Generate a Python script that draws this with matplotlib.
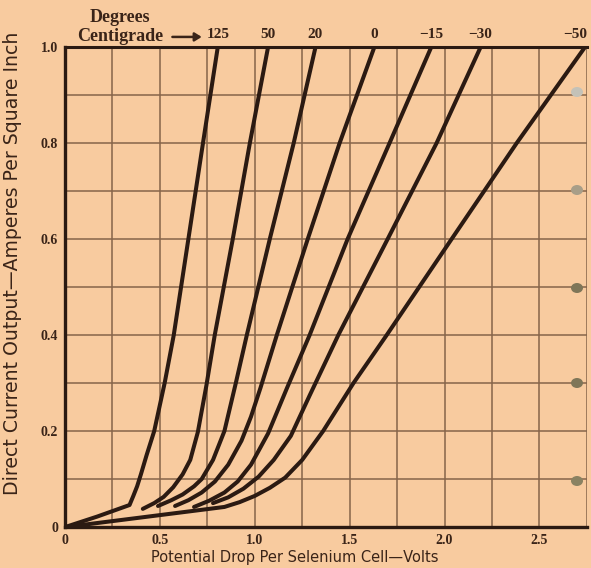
import matplotlib
matplotlib.use("Agg")
import matplotlib.pyplot as plt
import numpy as np

# ---- data (volts, amperes per square inch) ----
temps = ["125", "50", "20", "0", "\u221215", "\u221230", "\u221250"]

v_125 = [0.0, 0.17, 0.34, 0.36, 0.38, 0.40, 0.43, 0.47, 0.525, 0.573, 0.65, 0.727, 0.805]
a_125 = [0.0, 0.022, 0.046, 0.065, 0.085, 0.11, 0.15, 0.20, 0.30, 0.40, 0.60, 0.80, 1.00]

v_50 = [0.41, 0.47, 0.52, 0.57, 0.62, 0.66, 0.70, 0.745, 0.789, 0.884, 0.974, 1.07]
a_50 = [0.038, 0.050, 0.063, 0.083, 0.11, 0.14, 0.198, 0.295, 0.40, 0.60, 0.80, 1.00]

v_20 = [0.49, 0.56, 0.62, 0.68, 0.72, 0.78, 0.84, 0.90, 0.958, 1.079, 1.205, 1.32]
a_20 = [0.044, 0.056, 0.068, 0.085, 0.10, 0.14, 0.20, 0.30, 0.40, 0.60, 0.80, 1.00]

v_0 = [0.58, 0.65, 0.72, 0.79, 0.86, 0.93, 0.98, 1.03, 1.116, 1.279, 1.447, 1.63]
a_0 = [0.044, 0.056, 0.072, 0.095, 0.13, 0.18, 0.23, 0.29, 0.40, 0.60, 0.80, 1.00]

v_m15 = [0.68, 0.76, 0.84, 0.91, 0.98, 1.07, 1.17, 1.289, 1.489, 1.71, 1.93]
a_m15 = [0.042, 0.055, 0.072, 0.095, 0.13, 0.195, 0.29, 0.40, 0.60, 0.80, 1.00]

v_m30 = [0.78, 0.86, 0.94, 1.02, 1.10, 1.19, 1.29, 1.44, 1.70, 1.958, 2.19]
a_m30 = [0.050, 0.062, 0.080, 0.105, 0.14, 0.19, 0.275, 0.40, 0.60, 0.80, 1.00]

v_m50 = [0.0, 0.42, 0.84, 0.92, 1.00, 1.08, 1.16, 1.25, 1.36, 1.52, 1.695, 2.037, 2.38, 2.74]
a_m50 = [0.0, 0.021, 0.042, 0.052, 0.065, 0.082, 0.103, 0.14, 0.20, 0.30, 0.40, 0.60, 0.80, 1.00]

label_x = [0.805, 1.07, 1.32, 1.63, 1.93, 2.19, 2.69]

xticks = [0, 0.5, 1.0, 1.5, 2.0, 2.5]
xtick_labels = ["0", "0.5", "1.0", "1.5", "2.0", "2.5"]
yticks = [0, 0.2, 0.4, 0.6, 0.8, 1.0]
ytick_labels = ["0", "0.2", "0.4", "0.6", "0.8", "1.0"]

series = [(v_125, a_125), (v_50, a_50), (v_20, a_20), (v_0, a_0),
          (v_m15, a_m15), (v_m30, a_m30), (v_m50, a_m50)]

BG = "#f8cb9f"
GRID = "#86654a"
INK = "#2b1a12"
TXT = "#3a2418"

fig = plt.figure(figsize=(5.91, 5.68), dpi=100, facecolor=BG)
ax = fig.add_axes([0.110, 0.072, 0.883, 0.845], facecolor=BG)

ax.set_xlim(0, 2.75)
ax.set_ylim(0, 1.0)

# grid
ax.set_xticks(np.arange(0, 2.76, 0.25), minor=True)
ax.set_yticks(np.arange(0, 1.01, 0.1), minor=True)
ax.grid(which="minor", color=GRID, linewidth=1.1)
ax.grid(which="major", color=GRID, linewidth=1.1)
ax.set_axisbelow(True)

for v, a in series:
    ax.plot(v, a, color=INK, linewidth=2.9, solid_capstyle="round",
            solid_joinstyle="round", zorder=3)

ax.set_xticks(xticks)
ax.set_xticklabels(xtick_labels)
ax.set_yticks(yticks)
ax.set_yticklabels(ytick_labels)
ax.tick_params(which="both", length=0, pad=5, labelsize=10, colors=TXT)
for lab in ax.get_xticklabels() + ax.get_yticklabels():
    lab.set_fontfamily("Liberation Serif")
    lab.set_fontweight("bold")

for side in ["left", "bottom"]:
    ax.spines[side].set_linewidth(2.4)
    ax.spines[side].set_color(INK)
ax.spines["top"].set_linewidth(2.2)
ax.spines["top"].set_color(INK)
ax.spines["right"].set_visible(False)

ax.set_xlabel("Potential Drop Per Selenium Cell\u2014Volts", fontsize=10.5,
              color=TXT, family="DejaVu Sans")
ax.xaxis.set_label_coords(0.44, -0.047)
ax.set_ylabel("Direct Current Output\u2014Amperes Per Square Inch", fontsize=13.6,
              color=TXT, family="DejaVu Sans")
ax.yaxis.set_label_coords(-0.082, 0.55)

# temperature labels
for t, x in zip(temps, label_x):
    ax.text(x, 1.012, t, ha="center", va="bottom", fontsize=11,
            fontweight="bold", family="Liberation Serif", color=TXT,
            clip_on=False)

fig.text(0.203, 0.954, "Degrees", ha="center", va="bottom", fontsize=13,
         fontweight="bold", family="Liberation Serif", color=TXT)
fig.text(0.130, 0.921, "Centigrade", ha="left", va="bottom", fontsize=13,
         fontweight="bold", family="Liberation Serif", color=TXT)
fig.add_artist(matplotlib.patches.FancyArrowPatch(
    (0.287, 0.935), (0.346, 0.935), transform=fig.transFigure,
    arrowstyle="-|>,head_length=4,head_width=2.5", color=TXT, linewidth=1.8))

# paper punch-hole marks along the right edge of the scanned sheet
hole_y = [92, 190, 288, 383, 481]
hole_c = ["#c4c2b8", "#a89e88", "#7f7658", "#7f7658", "#8a8262"]
for hy, hc in zip(hole_y, hole_c):
    fig.add_artist(matplotlib.patches.Ellipse(
        (577 / 591, 1 - hy / 568), 12 / 591, 10 / 568,
        transform=fig.transFigure, facecolor=hc, edgecolor="none", zorder=5))

fig.savefig("out.png", dpi=100, facecolor=BG)
